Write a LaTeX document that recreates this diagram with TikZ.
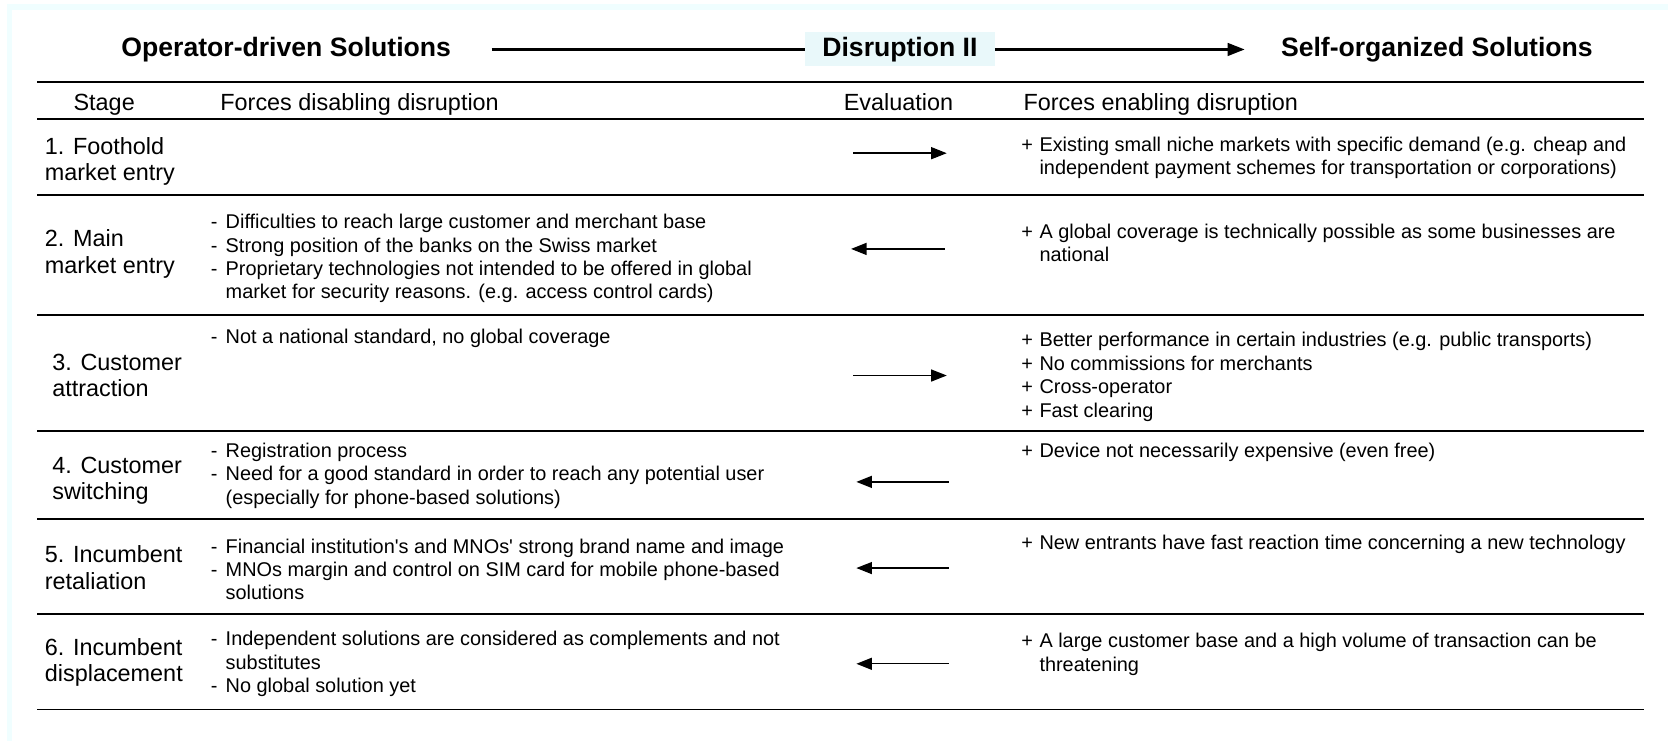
\documentclass[tikz,border=0pt]{standalone}
\usepackage{fontspec}
\setmainfont{Liberation Sans}
\usetikzlibrary{arrows.meta}
\definecolor{framecyan}{HTML}{F0FEFF}
\definecolor{boxcyan}{HTML}{E9F8FA}
\newcommand\dashitem{\makebox[14pt][l]{-}}
\newcommand\dashcont{\hspace*{14pt}}
\newcommand\plusitem{\makebox[17pt][l]{+}}
\newcommand\pluscont{\hspace*{17pt}}
\begin{document}
\begin{tikzpicture}[x=1pt,y=-1pt,
  titletext/.style={font=\fontsize{25}{29}\selectfont\bfseries, inner sep=0, anchor=base west},
  headtext/.style={font=\fontsize{22}{26}\selectfont, inner sep=0, anchor=base west},
  stagelbl/.style={font=\fontsize{22}{25}\selectfont, inner sep=0, anchor=base west, align=left},
  bodytext/.style={font=\fontsize{18.7}{22}\selectfont, inner sep=0, anchor=base west, align=left},
  hrule/.style={line width=1.7pt},
  titleline/.style={line width=2pt},
  titlearrow/.style={line width=2pt, -{Triangle[length=16pt,width=12pt]}},
  evalarrow/.style={line width=1.3pt, -{Triangle[length=14.7pt,width=11.3pt]}},
]
\useasboundingbox (0,0) rectangle (1568,696.6);
\fill[framecyan] (6.6,3.8) rectangle (1568,696.6);
\fill[white] (11.3,9.4) rectangle (1568,696.6);

% title row
\node[titletext] (op) at (114,53) {Operator-driven Solutions};
\node[fill=boxcyan, minimum width=178pt, minimum height=32pt, inner sep=0,
      font=\fontsize{25}{29}\selectfont\bfseries] (dis) at (846,46.5) {Disruption II};
\node[titletext] (self) at (1204,53) {Self-organized Solutions};
\draw[titleline, shorten <=38pt] (op.east |- dis.west) -- (dis.west);
\draw[titlearrow, shorten >=34pt] (dis.east) -- (self.west |- dis.east);

% rules
\draw[hrule] (35,77) -- (1545,77);
\draw[hrule] (35,112) -- (1545,112);
\draw[hrule] (35,183) -- (1545,183);
\draw[hrule] (35,296) -- (1545,296);
\draw[hrule] (35,405) -- (1545,405);
\draw[hrule] (35,488) -- (1545,488);
\draw[hrule] (35,577) -- (1545,577);
\draw[hrule] (35,667) -- (1545,667);

% header
\node[headtext] (hstage) at (69,103.5) {Stage};
\node[headtext] (hdis) at (207,103.5) {Forces disabling disruption};
\node[headtext] (heval) at (793,103.5) {Evaluation};
\node[headtext] (hen) at (962,103.5) {Forces enabling disruption};

% stage labels (anchored at the baseline of their last line)
\node[stagelbl] (s1) at (42,170) {1. Foothold\\market entry};
\node[stagelbl] (s2) at (42,257) {2. Main\\market entry};
\node[stagelbl] (s3) at (49,373) {3. Customer\\attraction};
\node[stagelbl] (s4) at (49,470) {4. Customer\\switching};
\node[stagelbl] (s5) at (42,554) {5. Incumbent\\retaliation};
\node[stagelbl] (s6) at (42,641) {6. Incumbent\\displacement};

% forces disabling (anchored at the baseline of their last line)
\node[bodytext] (d2) at (198,281) {\dashitem Difficulties to reach large customer and merchant base\\
\dashitem Strong position of the banks on the Swiss market\\
\dashitem Proprietary technologies not intended to be offered in global\\
\dashcont market for security reasons. (e.g. access control cards)};
\node[bodytext] (d3) at (198,323) {\dashitem Not a national standard, no global coverage};
\node[bodytext] (d4) at (198,474) {\dashitem Registration process\\
\dashitem Need for a good standard in order to reach any potential user\\
\dashcont (especially for phone-based solutions)};
\node[bodytext] (d5) at (198,564) {\dashitem Financial institution\textquotesingle s and MNOs\textquotesingle{} strong brand name and image\\
\dashitem MNOs margin and control on SIM card for mobile phone-based\\
\dashcont solutions};
\node[bodytext] (d6) at (198,651) {\dashitem Independent solutions are considered as complements and not\\
\dashcont substitutes\\
\dashitem No global solution yet};

% forces enabling
\node[bodytext] (p1) at (960,164) {\plusitem Existing small niche markets with specific demand (e.g. cheap and\\
\pluscont independent payment schemes for transportation or corporations)};
\node[bodytext] (p2) at (960,246) {\plusitem A global coverage is technically possible as some businesses are\\
\pluscont national};
\node[bodytext] (p3) at (960,392) {\plusitem Better performance in certain industries (e.g. public transports)\\
\plusitem No commissions for merchants\\
\plusitem Cross-operator\\
\plusitem Fast clearing};
\node[bodytext] (p4) at (960,430) {\plusitem Device not necessarily expensive (even free)};
\node[bodytext] (p5) at (960,517) {\plusitem New entrants have fast reaction time concerning a new technology};
\node[bodytext] (p6) at (960,631) {\plusitem A large customer base and a high volume of transaction can be\\
\pluscont threatening};

% evaluation arrows
\coordinate (e1a) at (802,144); \coordinate (e1b) at (890,144);
\coordinate (e2a) at (888,234); \coordinate (e2b) at (800,234);
\coordinate (e3a) at (802,353); \coordinate (e3b) at (890,353);
\coordinate (e4a) at (892,453); \coordinate (e4b) at (805,453);
\coordinate (e5a) at (892,534); \coordinate (e5b) at (805,534);
\coordinate (e6a) at (892,624); \coordinate (e6b) at (805,624);
\draw[evalarrow] (e1a) -- (e1b);
\draw[evalarrow] (e2a) -- (e2b);
\draw[evalarrow] (e3a) -- (e3b);
\draw[evalarrow] (e4a) -- (e4b);
\draw[evalarrow] (e5a) -- (e5b);
\draw[evalarrow] (e6a) -- (e6b);
\end{tikzpicture}
\end{document}
